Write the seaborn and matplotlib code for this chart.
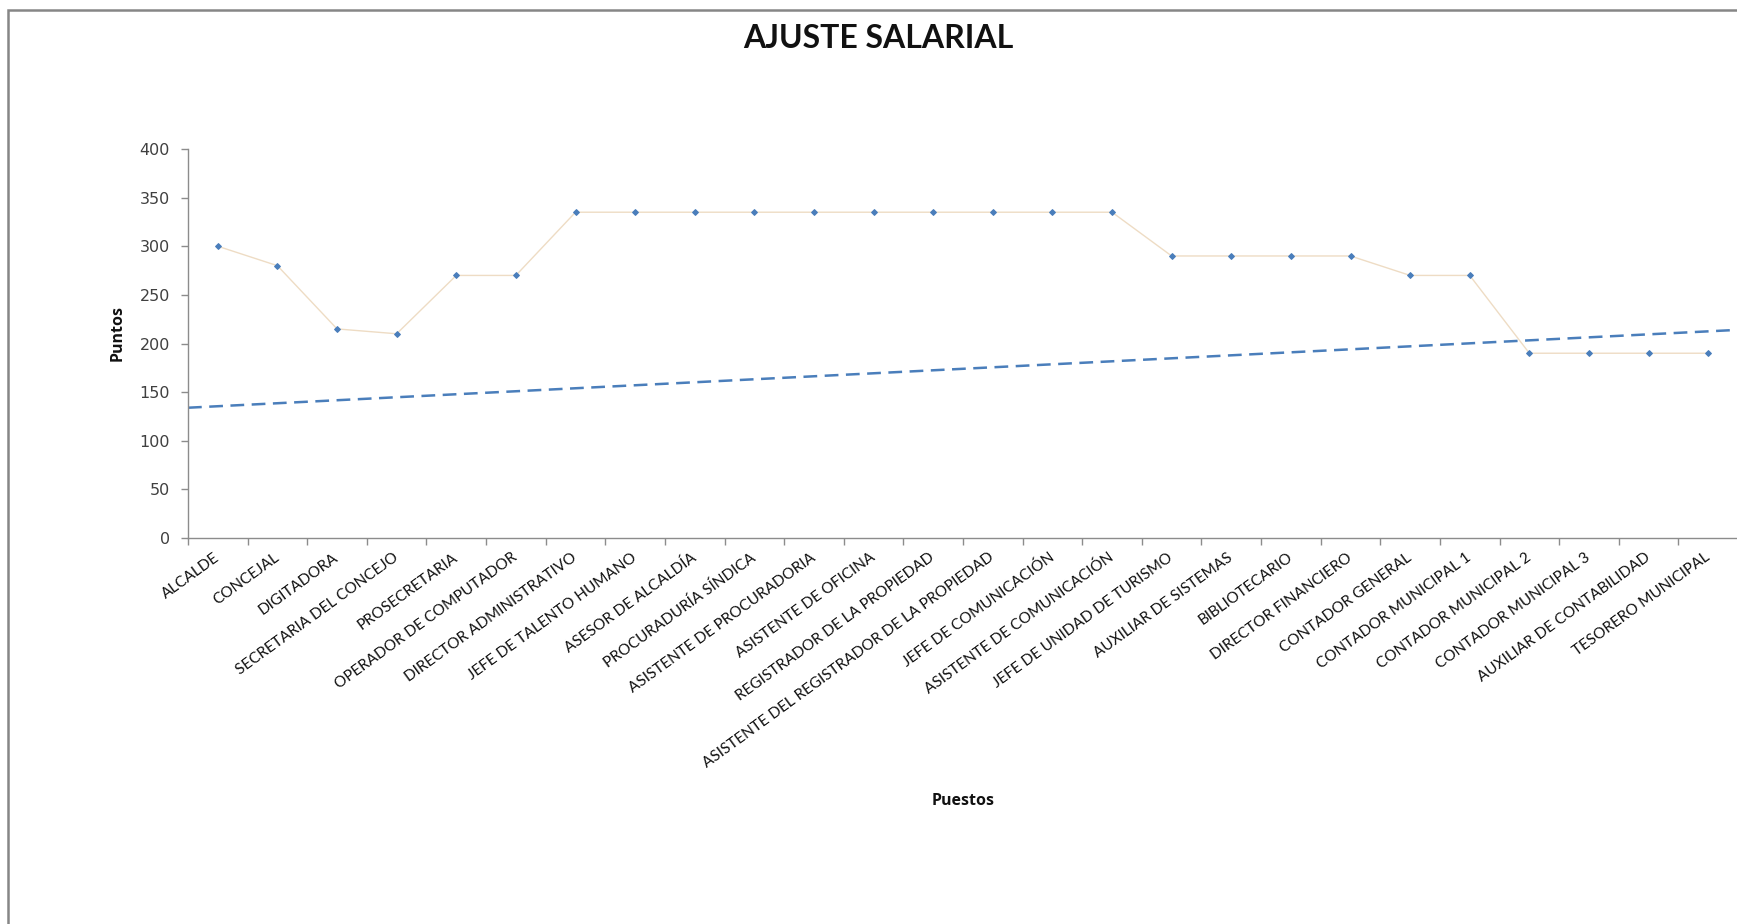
import matplotlib
matplotlib.use("Agg")
import matplotlib.pyplot as plt
import seaborn as sns
import numpy as np
import pandas as pd
from matplotlib.patches import Rectangle

# ---------------- data ----------------
puestos = [
    "ALCALDE", "CONCEJAL", "DIGITADORA", "SECRETARIA DEL CONCEJO", "PROSECRETARIA",
    "OPERADOR DE COMPUTADOR", "DIRECTOR ADMINISTRATIVO", "JEFE DE TALENTO HUMANO",
    "ASESOR DE ALCALDÍA", "PROCURADURÍA SÍNDICA", "ASISTENTE DE PROCURADORIA",
    "ASISTENTE DE OFICINA", "REGISTRADOR DE LA PROPIEDAD",
    "ASISTENTE DEL REGISTRADOR DE LA PROPIEDAD", "JEFE DE COMUNICACIÓN",
    "ASISTENTE DE COMUNICACIÓN", "JEFE DE UNIDAD DE TURISMO", "AUXILIAR DE SISTEMAS",
    "BIBLIOTECARIO", "DIRECTOR FINANCIERO", "CONTADOR GENERAL", "CONTADOR MUNICIPAL 1",
    "CONTADOR MUNICIPAL 2", "CONTADOR MUNICIPAL 3", "AUXILIAR DE CONTABILIDAD",
    "TESORERO MUNICIPAL",
]
puntos = [300, 280, 215, 210, 270, 270, 335, 335, 335, 335, 335, 335, 335, 335,
          335, 335, 290, 290, 290, 290, 270, 270, 190, 190, 190, 190]
# linear trend line read at first and last category
tendencia_inicio = 135.5
tendencia_fin = 212.5
y_ticks = [0, 50, 100, 150, 200, 250, 300, 350, 400]

titulo = "AJUSTE SALARIAL"
eje_x = "Puestos"
eje_y = "Puntos"

# ---------------- style ----------------
sns.set_style("white")
plt.rcParams["font.family"] = ["Lato", "DejaVu Sans"]

W, H = 1737, 924
fig = plt.figure(figsize=(W / 100, H / 100), dpi=100)
fig.patch.set_facecolor("white")

ax = fig.add_axes([188 / W, 1 - 538 / H, (1738 - 188) / W, (538 - 149) / H])

df = pd.DataFrame({"idx": np.arange(len(puestos)), "puntos": puntos})
sns.lineplot(data=df, x="idx", y="puntos", ax=ax, color="#eedcc4", linewidth=1.0,
             marker="D", markersize=3.0, markerfacecolor="#4a7ebb",
             markeredgecolor="#4a7ebb", zorder=3)

# trend line across the full axis
n = len(puestos)
coef = np.polyfit([0, n - 1], [tendencia_inicio, tendencia_fin], 1)
tx = np.array([-0.5, n - 0.5])
tdf = pd.DataFrame({"x": tx, "y": np.polyval(coef, tx)})
sns.lineplot(data=tdf, x="x", y="y", ax=ax, color="#4a7ebb", linewidth=1.8,
             linestyle=(0, (5.5, 3)), zorder=2)

ax.set_xlim(-0.5, n - 0.5)
ax.set_ylim(0, 400)
ax.set_yticks(y_ticks)
ax.set_yticklabels([str(v) for v in y_ticks], family="DejaVu Sans",
                   fontsize=11.5, color="#404040")

ax.set_xticks(np.arange(n))
ax.set_xticklabels(puestos, rotation=36, ha="right", va="center",
                   rotation_mode="anchor", fontsize=11, color="#111111")
ax.set_xticks(np.arange(n + 1) - 0.5, minor=True)
ax.tick_params(axis="x", which="major", length=0, pad=13)
ax.tick_params(axis="x", which="minor", length=5, width=1, color="#8c8c8c",
               direction="out", bottom=True)
ax.tick_params(axis="y", which="major", length=5, width=1, color="#8c8c8c",
               direction="out", left=True, pad=8)

for s in ["top", "right"]:
    ax.spines[s].set_visible(False)
for s in ["left", "bottom"]:
    ax.spines[s].set_color("#8c8c8c")
    ax.spines[s].set_linewidth(1.0)

ax.set_xlabel(eje_x, fontsize=11.5, fontweight="bold", color="#111111",
              family="Open Sans")
ax.xaxis.set_label_coords(0.5, (538 - 793) / (538 - 149))
ax.set_ylabel(eje_y, fontsize=11.5, fontweight="bold", color="#111111",
              family="Open Sans")
ax.yaxis.set_label_coords((126 - 188) / (1738 - 188), (538 - 333) / (538 - 149))

fig.text(878 / W, 1 - 39 / H, titulo, ha="center", va="center",
         fontsize=23, fontweight="bold", color="#111111", family="Lato")

# chart frame (cut off at right and bottom as in reference)
fig.patches.append(Rectangle((8 / W, -0.1), 1.2, 1 - 9.5 / H + 0.1,
                             transform=fig.transFigure, fill=False,
                             edgecolor="#868686", linewidth=1.8))

fig.savefig("out.png", dpi=100, facecolor="white")
